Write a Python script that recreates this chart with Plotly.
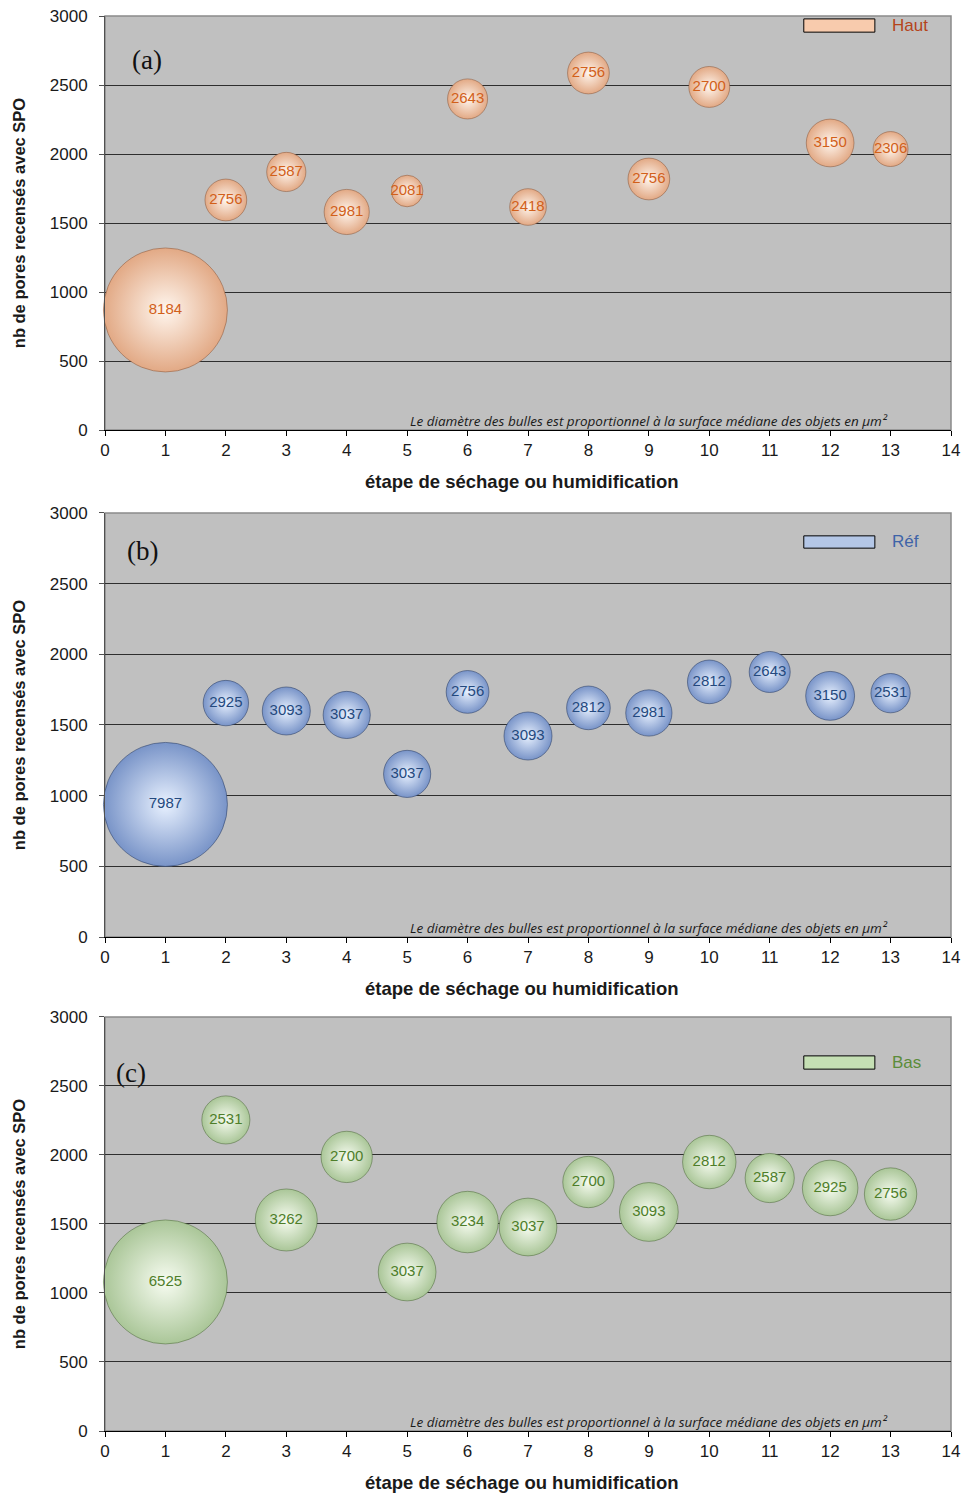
import plotly.graph_objects as go

# ---------------- data ----------------
etapes_a = [1, 2, 3, 4, 5, 6, 7, 8, 9, 10, 12, 13]
pores_a = [870, 1667, 1870, 1580, 1732, 2399, 1616, 2587, 1819, 2486, 2080, 2036]
surface_a = [8184, 2756, 2587, 2981, 2081, 2643, 2418, 2756, 2756, 2700, 3150, 2306]

etapes_b = [1, 2, 3, 4, 5, 6, 7, 8, 9, 10, 11, 12, 13]
pores_b = [938, 1655, 1599, 1571, 1154, 1734, 1422, 1621, 1585, 1805, 1875, 1706, 1725]
surface_b = [7987, 2925, 3093, 3037, 3037, 2756, 3093, 2812, 2981, 2812, 2643, 3150, 2531]

etapes_c = [1, 2, 3, 4, 5, 6, 7, 8, 9, 10, 11, 12, 13]
pores_c = [1080, 2254, 1529, 1986, 1152, 1514, 1478, 1804, 1587, 1949, 1833, 1761, 1717]
surface_c = [6525, 2531, 3262, 2700, 3037, 3234, 3037, 2700, 3093, 2812, 2587, 2925, 2756]

x_ticks = list(range(0, 15))
y_ticks = [0, 500, 1000, 1500, 2000, 2500, 3000]

series_names = ["Haut", "Réf", "Bas"]
panel_labels = ["(a)", "(b)", "(c)"]
x_title = "étape de séchage ou humidification"
y_title = "nb de pores recensés avec SPO"
note = "Le diamètre des bulles est proportionnel à la surface médiane des objets en µm²"

# ---------------- styles ----------------
styles = [
    dict(edge="#E2A985", center="#FFF6EE", rim="rgba(140,90,60,0.55)",
         legend_fill="#F8CBAD", text="#D2601A", leg_text="#B5441A"),
    dict(edge="#7994C8", center="#E8F1FF", rim="rgba(40,60,100,0.55)",
         legend_fill="#B4C7E7", text="#24497E", leg_text="#3E63A8"),
    dict(edge="#AAC698", center="#F7FCF1", rim="rgba(70,100,50,0.5)",
         legend_fill="#C5E0B4", text="#4E7E2A", leg_text="#5B8C3A"),
]
domains = [[0.7074, 1.0], [0.3491, 0.6488], [0.0, 0.2926]]
panel_px = [414, 424, 414]
label_pos = [(0.05, 0.894), (0.044, 0.910), (0.031, 0.865)]
legend_y = [(0.961, 0.993), (0.917, 0.946), (0.874, 0.906)]
max_diam = 124

datasets = [
    (etapes_a, pores_a, surface_a),
    (etapes_b, pores_b, surface_b),
    (etapes_c, pores_c, surface_c),
]

fig = go.Figure()
shapes = []
annotations = []
FONT = "Liberation Sans, Arial, sans-serif"

for i, ((xs, ys, ss), st) in enumerate(zip(datasets, styles)):
    n = "" if i == 0 else str(i + 1)
    xref = "x" + n
    yref = "y" + n
    fig.add_trace(go.Scatter(
        x=xs, y=ys, mode="markers+text",
        text=[str(v) for v in ss], textposition="middle center",
        textfont=dict(family=FONT, size=15, color=st["text"]),
        marker=dict(
            size=ss, sizemode="diameter", sizeref=max(ss) / max_diam,
            color=st["edge"], line=dict(width=1, color=st["rim"]),
            gradient=dict(type="radial", color=st["center"]),
            opacity=1,
        ),
        cliponaxis=False, showlegend=False, name=series_names[i],
        xaxis=xref, yaxis=yref,
    ))

    axis_common = dict(
        showline=True, ticks="outside", ticklen=5, tickwidth=1,
        tickfont=dict(family=FONT, size=17, color="#1a1a1a"),
        zeroline=False, automargin=False, ticklabeloverflow="allow",
    )
    fig.layout["xaxis" + n] = dict(
        axis_common, domain=[0, 1], anchor=yref, range=[0, 14],
        tickvals=x_ticks, linecolor="#000000", tickcolor="#000000",
        showgrid=False,
    )
    fig.layout["yaxis" + n] = dict(
        axis_common, domain=domains[i], anchor=xref, range=[0, 3000],
        tickvals=y_ticks, linecolor="#505050", tickcolor="#505050",
        ticklabelstandoff=8,
        showgrid=True, gridcolor="#2e2e2e", gridwidth=1,
        title=dict(text="<b>" + y_title + "</b>", standoff=19,
                   font=dict(family=FONT, size=16.5, color="#1a1a1a")),
    )

    # x axis title
    annotations.append(dict(xref=xref + " domain", yref=yref + " domain",
                            x=0.493, y=-51 / panel_px[i], xanchor="center", yanchor="middle",
                            text="<b>" + x_title + "</b>", showarrow=False,
                            font=dict(family=FONT, size=18.5, color="#1a1a1a")))

    # plot area frame
    shapes.append(dict(type="rect", xref=xref + " domain", yref=yref + " domain",
                       x0=0, x1=1, y0=0, y1=1, line=dict(color="#8a8a8a", width=1.5),
                       fillcolor="rgba(0,0,0,0)", layer="below"))
    # legend key
    y0, y1 = legend_y[i]
    shapes.append(dict(type="rect", xref=xref + " domain", yref=yref + " domain",
                       x0=0.826, x1=0.910, y0=y0, y1=y1,
                       line=dict(color="#000000", width=1), fillcolor=st["legend_fill"],
                       layer="above"))
    annotations.append(dict(xref=xref + " domain", yref=yref + " domain",
                            x=0.928, y=(y0 + y1) / 2, xanchor="left", yanchor="middle",
                            text=series_names[i], showarrow=False,
                            font=dict(family=FONT, size=17, color=st["leg_text"])))
    # panel label
    lx, ly = label_pos[i]
    annotations.append(dict(xref=xref + " domain", yref=yref + " domain",
                            x=lx, y=ly, xanchor="center", yanchor="middle",
                            text=panel_labels[i], showarrow=False,
                            font=dict(family="Liberation Serif, serif", size=27, color="#111111")))
    # note
    annotations.append(dict(xref=xref + " domain", yref=yref + " domain",
                            x=0.928, y=0.022, xanchor="right", yanchor="middle",
                            text="<i>" + note + "</i>", showarrow=False,
                            font=dict(family="Open Sans, sans-serif", size=13.5, color="#1a1a1a")))

# the page adds an 8 px body margin: the figure starts 8 px in and ends at the window's bottom
fig.update_layout(
    width=953, height=1486,
    margin=dict(l=97, r=10, t=8, b=63),
    plot_bgcolor="#C0C0C0", paper_bgcolor="#FFFFFF",
    shapes=shapes, annotations=annotations,
    showlegend=False,
)

fig.write_html("out.html")
